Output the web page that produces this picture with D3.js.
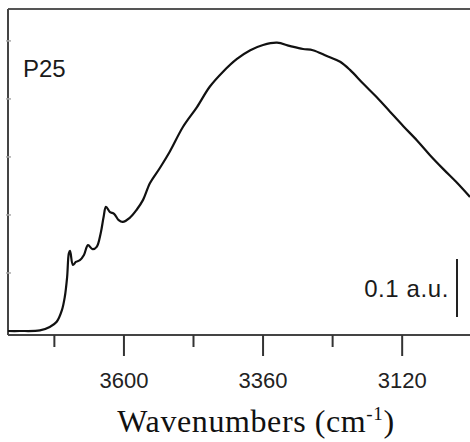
<!DOCTYPE html>
<html>
<head>
<meta charset="utf-8">
<script src="https://cdn.jsdelivr.net/npm/d3@7"></script>
<style>
  html, body { margin: 0; padding: 0; background: #fff; }
  svg { display: block; }
</style>
</head>
<body>
<div id="chart"></div>
<script>
// spectrum: wavenumber (cm-1) and absorbance (a.u.)
const wavenumbers = [3800, 3780, 3745, 3728, 3716, 3707, 3702, 3698, 3695, 3693, 3688, 3683, 3676, 3669,
  3662, 3654, 3647, 3640, 3635, 3631, 3624, 3617, 3609, 3602, 3590, 3578, 3567, 3555, 3538, 3521,
  3498, 3474, 3452, 3429, 3405, 3382, 3360, 3336, 3313, 3291, 3274, 3250, 3227, 3210, 3187, 3163,
  3141, 3118, 3094, 3072, 3049, 3025, 3003];
const absorbance = [0.000, 0.000, 0.001, 0.007, 0.016, 0.036, 0.059, 0.093, 0.134, 0.138, 0.114, 0.119, 0.122, 0.131,
  0.148, 0.141, 0.145, 0.169, 0.197, 0.214, 0.205, 0.202, 0.191, 0.188, 0.195, 0.209, 0.226, 0.255, 0.281, 0.309,
  0.352, 0.386, 0.421, 0.447, 0.469, 0.484, 0.493, 0.497, 0.491, 0.486, 0.484, 0.474, 0.464, 0.450, 0.426, 0.402,
  0.378, 0.353, 0.328, 0.303, 0.279, 0.255, 0.231];

const majorTicks = [3600, 3360, 3120];
const minorTicks = [3720, 3480, 3240];
const yTicks = [0.1, 0.2, 0.3, 0.4, 0.5];
const scaleBar = [0.024, 0.124];
const sampleLabel = 'P25';
const scaleLabel = '0.1 a.u.';

const width = 470, height = 442;
const plotLeft = 8, plotRight = 470, plotTop = 9, plotBottom = 335;

const data = wavenumbers.map((w, i) => ({ w: w, a: absorbance[i] }));

const x = d3.scaleLinear().domain([3800, 3003]).range([plotLeft, plotRight]);
const y = d3.scaleLinear().domain([-0.0069, 0.555]).range([plotBottom, plotTop]);

const svg = d3.select('#chart').append('svg')
  .attr('width', width)
  .attr('height', height);

// frame: top line and left line
svg.append('line')
  .attr('x1', plotLeft).attr('x2', plotRight)
  .attr('y1', plotTop).attr('y2', plotTop)
  .style('stroke', '#555').style('stroke-width', 2);
svg.append('line')
  .attr('x1', plotLeft).attr('x2', plotLeft)
  .attr('y1', plotTop).attr('y2', plotBottom)
  .style('stroke', '#444').style('stroke-width', 2);

// tiny ticks on the left axis
svg.selectAll('.ytick')
  .data(yTicks)
  .enter()
  .append('line')
  .attr('class', 'ytick')
  .attr('x1', plotLeft - 2).attr('x2', plotLeft + 3)
  .attr('y1', d => y(d)).attr('y2', d => y(d))
  .style('stroke', '#aaa').style('stroke-width', 1.5);

// bottom axis
svg.append('line')
  .attr('x1', plotLeft).attr('x2', plotRight)
  .attr('y1', plotBottom).attr('y2', plotBottom)
  .style('stroke', '#444').style('stroke-width', 2);

svg.selectAll('.major')
  .data(majorTicks)
  .enter()
  .append('line')
  .attr('class', 'major')
  .attr('x1', d => x(d)).attr('x2', d => x(d))
  .attr('y1', plotBottom).attr('y2', plotBottom + 21)
  .style('stroke', '#333').style('stroke-width', 2);

svg.selectAll('.minor')
  .data(minorTicks)
  .enter()
  .append('line')
  .attr('class', 'minor')
  .attr('x1', d => x(d)).attr('x2', d => x(d))
  .attr('y1', plotBottom).attr('y2', plotBottom + 12)
  .style('stroke', '#333').style('stroke-width', 2);

svg.selectAll('.ticklabel')
  .data(majorTicks)
  .enter()
  .append('text')
  .attr('class', 'ticklabel')
  .attr('x', d => x(d))
  .attr('y', 388)
  .attr('text-anchor', 'middle')
  .style('font-family', '"Liberation Sans", Arial, sans-serif')
  .style('font-size', '22px')
  .style('fill', '#222')
  .text(d => d);

// axis title
const title = svg.append('text')
  .attr('x', 256)
  .attr('y', 432)
  .attr('text-anchor', 'middle')
  .style('font-family', '"Liberation Serif", "DejaVu Serif", serif')
  .style('font-size', '32px')
  .style('letter-spacing', '0.6px')
  .style('fill', '#111');
title.append('tspan').text('Wavenumbers (cm');
title.append('tspan').attr('dy', -12).style('font-size', '19px').text('-1');
title.append('tspan').attr('dy', 12).text(')');

// spectrum
const line = d3.line()
  .x(d => x(d.w))
  .y(d => y(d.a))
  .curve(d3.curveCatmullRom.alpha(0.5));

svg.append('path')
  .datum(data)
  .attr('d', line)
  .style('fill', 'none')
  .style('stroke', '#111')
  .style('stroke-width', 2.2);

// labels
svg.append('text')
  .attr('x', 23)
  .attr('y', 77)
  .style('font-family', '"Liberation Sans", Arial, sans-serif')
  .style('font-size', '24px')
  .style('fill', '#1a1a1a')
  .text(sampleLabel);

svg.append('text')
  .attr('x', 449)
  .attr('y', 297)
  .attr('text-anchor', 'end')
  .style('font-family', '"Liberation Sans", Arial, sans-serif')
  .style('font-size', '24px')
  .style('letter-spacing', '0.6px')
  .style('fill', '#1a1a1a')
  .text(scaleLabel);

// 0.1 a.u. scale bar
svg.append('line')
  .attr('x1', 457).attr('x2', 457)
  .attr('y1', y(scaleBar[0])).attr('y2', y(scaleBar[1]))
  .style('stroke', '#222').style('stroke-width', 2);
</script>
</body>
</html>
